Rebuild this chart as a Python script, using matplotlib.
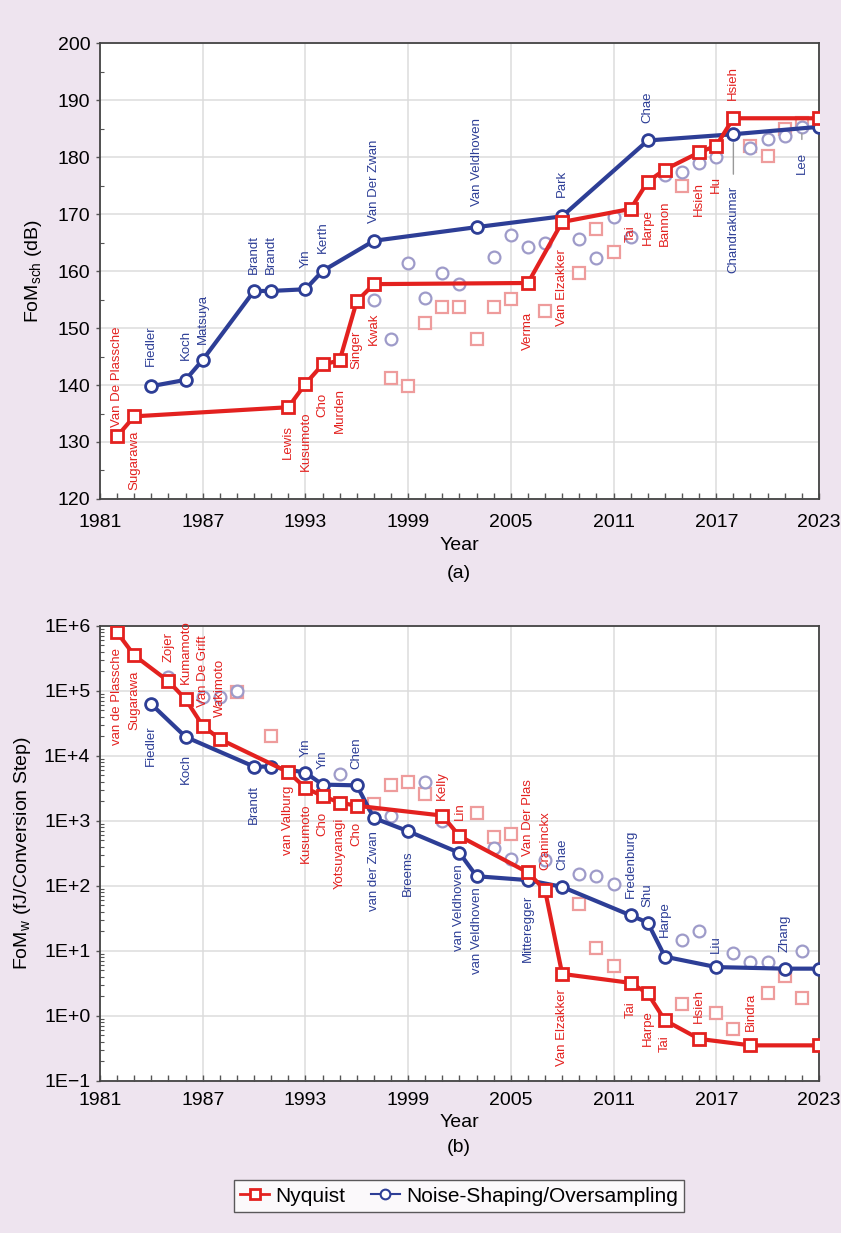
import matplotlib.pyplot as plt
from matplotlib.lines import Line2D
from matplotlib.ticker import MultipleLocator, LogLocator, NullFormatter, FixedLocator

plt.rcParams['font.family'] = ['Liberation Sans', 'DejaVu Sans']

RED = '#E3211F'
BLUE = '#2D3E96'
RED_LT = '#EE9C9C'
BLUE_LT = '#9E9BC9'
BG = '#EEE4EF'

# ---- (a) FoM_sch ----
a_nyq_year = [1982, 1983, 1992, 1993, 1994, 1995, 1996, 1997, 2006, 2008, 2012, 2013, 2014, 2016, 2017, 2018, 2023]
a_nyq_fom = [131.0, 134.5, 136.1, 140.2, 143.6, 144.3, 154.7, 157.7, 157.9, 168.6, 170.9, 175.7, 177.8, 180.8, 182.0, 186.8, 186.8]
a_nyq_name = ['Van De Plassche', 'Sugarawa', 'Lewis', 'Kusumoto', 'Cho', 'Murden', 'Singer', 'Kwak',
              'Verma', 'Van Elzakker', 'Tai', 'Harpe', 'Bannon', 'Hsieh', 'Hu', 'Hsieh', '']

a_ns_year = [1984, 1986, 1987, 1990, 1991, 1993, 1994, 1997, 2003, 2008, 2013, 2018, 2023]
a_ns_fom = [139.8, 140.9, 144.4, 156.5, 156.5, 156.8, 160.0, 165.3, 167.7, 169.6, 182.9, 184.0, 185.3]
a_ns_name = ['Fiedler', 'Koch', 'Matsuya', 'Brandt', 'Brandt', 'Yin', 'Kerth', 'Van Der Zwan',
             'Van Veldhoven', 'Park', 'Chae', 'Chandrakumar', '']

a_nyq_other_year = [1998, 1999, 2000, 2001, 2002, 2003, 2004, 2005, 2007, 2009, 2010, 2011, 2015, 2019, 2020, 2021, 2022]
a_nyq_other_fom = [141.3, 139.8, 150.9, 153.6, 153.6, 148.1, 153.6, 155.1, 152.9, 159.6, 167.3, 163.4, 174.9, 181.9, 180.2, 184.9, 186.0]

a_ns_other_year = [1997, 1998, 1999, 2000, 2001, 2002, 2004, 2005, 2006, 2007, 2009, 2010, 2011, 2012,
                   2014, 2015, 2016, 2017, 2019, 2020, 2021, 2022]
a_ns_other_fom = [154.9, 148.0, 161.4, 155.2, 159.7, 157.7, 162.4, 166.4, 164.3, 165.0, 165.6, 162.3, 169.5, 165.9,
                  176.8, 177.3, 179.0, 180.0, 181.5, 183.1, 183.7, 185.3]

# ---- (b) FoM_w ----
b_nyq_year = [1982, 1983, 1985, 1986, 1987, 1988, 1992, 1993, 1994, 1995, 1996, 2001, 2002, 2006, 2007,
              2008, 2012, 2013, 2014, 2016, 2019, 2023]
b_nyq_fom = [7.9e5, 3.5e5, 1.4e5, 7.4e4, 2.9e4, 1.8e4, 5.6e3, 3.2e3, 2.4e3, 1.9e3, 1.7e3, 1.2e3, 5.8e2,
             160, 85, 4.4, 3.2, 2.2, 0.85, 0.44, 0.35, 0.35]
b_nyq_name = ['van de Plassche', 'Sugarawa', 'Zojer', 'Kumamoto', 'Van De Grift', 'Wakimoto', 'van Valburg',
              'Kusumoto', 'Cho', 'Yotsuyanagi', 'Cho', 'Kelly', 'Lin', 'Van Der Plas', 'Craninckx',
              'Van Elzakker', 'Tai', 'Harpe', 'Tai', 'Hsieh', 'Bindra', '']

b_ns_year = [1984, 1986, 1990, 1991, 1993, 1994, 1996, 1997, 1999, 2002, 2003, 2006, 2008, 2012, 2013,
             2014, 2017, 2021, 2023]
b_ns_fom = [6.2e4, 1.95e4, 6.8e3, 6.8e3, 5.5e3, 3.6e3, 3.5e3, 1.1e3, 690, 320, 140, 122, 96, 35, 27,
            8.1, 5.6, 5.3, 5.3]
b_ns_name = ['Fiedler', 'Koch', 'Brandt', '', 'Yin', 'Yin', 'Chen', 'van der Zwan', 'Breems', 'van Veldhoven',
             'van Veldhoven', 'Mitteregger', 'Chae', 'Fredenburg', 'Shu', 'Harpe', 'Liu', 'Zhang', '']

b_nyq_other_year = [1989, 1991, 1997, 1998, 1999, 2000, 2003, 2004, 2005, 2009, 2010, 2011, 2015, 2017,
                    2018, 2020, 2021, 2022]
b_nyq_other_fom = [9.5e4, 2.0e4, 1.8e3, 3.6e3, 3.9e3, 2.6e3, 1.3e3, 570, 630, 52, 11, 5.9, 1.5, 1.1,
                   0.62, 2.2, 4.1, 1.9]

b_ns_other_year = [1985, 1987, 1988, 1989, 1995, 1998, 2000, 2001, 2004, 2005, 2007, 2009, 2010, 2011,
                   2015, 2016, 2018, 2019, 2020, 2022]
b_ns_other_fom = [1.65e5, 7.9e4, 7.9e4, 1.0e5, 5.2e3, 1.2e3, 3.9e3, 1.0e3, 380, 260, 250, 150, 140, 107,
                  14.5, 20, 9.1, 6.6, 6.8, 10]

year_ticks = [1981, 1987, 1993, 1999, 2005, 2011, 2017, 2023]

# label side (a = above, b = below) and gap in px
a_nyq_place = [('a', 3), ('b', 8), ('b', 12), ('b', 22), ('b', 22), ('b', 22), ('b', 23), ('b', 23),
               ('b', 23), ('b', 21), ('b', 10), ('b', 22), ('b', 25), ('b', 24), ('b', 24), ('a', 12), ('a', 0)]
a_ns_place = [('a', 14), ('a', 14), ('a', 10), ('a', 11), ('a', 11), ('a', 15), ('a', 12), ('a', 12),
              ('a', 15), ('a', 13), ('a', 11), ('b', 46), ('a', 0)]
b_nyq_place = [('b', 10), ('b', 9), ('a', 13), ('a', 9), ('a', 13), ('a', 16), ('b', 8), ('b', 10), ('b', 10),
               ('b', 9), ('b', 10), ('a', 10), ('a', 10), ('a', 10), ('a', 14), ('b', 9), ('b', 12), ('b', 11),
               ('b', 9), ('a', 10), ('a', 8), ('a', 0)]
b_ns_place = [('b', 15), ('b', 11), ('b', 12), ('b', 0), ('a', 10), ('a', 10), ('a', 10), ('b', 7), ('b', 13),
              ('b', 5), ('b', 5), ('b', 9), ('a', 11), ('a', 11), ('a', 10), ('a', 14), ('a', 8), ('a', 11), ('a', 0)]


def put_labels(ax, xs, ys, names, place, color):
    for x, y, n, (side, gap) in zip(xs, ys, names, place):
        if not n:
            continue
        off = (gap + 6) * 0.72
        if side == 'a':
            ax.annotate(n, (x, y), xytext=(0, off), textcoords='offset points', rotation=90,
                        ha='center', va='bottom', color=color, fontsize=9.5, zorder=6)
        else:
            ax.annotate(n, (x, y), xytext=(0, -off), textcoords='offset points', rotation=90,
                        ha='center', va='top', color=color, fontsize=9.5, zorder=6)


def draw(ax, ny, nf, sy, sf, oy_n, of_n, oy_s, of_s):
    ax.plot(oy_n, of_n, 's', ms=8, mfc='white', mec=RED_LT, mew=1.6, ls='none', zorder=2)
    ax.plot(oy_s, of_s, 'o', ms=8.5, mfc='white', mec=BLUE_LT, mew=1.6, ls='none', zorder=2)
    ax.plot(sy, sf, '-o', color=BLUE, lw=3, ms=8.5, mfc='white', mec=BLUE, mew=2, zorder=4)
    ax.plot(ny, nf, '-s', color=RED, lw=3, ms=8, mfc='white', mec=RED, mew=2, zorder=5)


def style(ax, xpad):
    ax.set_facecolor('white')
    ax.set_xlim(1981, 2023)
    ax.xaxis.set_major_locator(FixedLocator(year_ticks))
    ax.xaxis.set_minor_locator(MultipleLocator(1))
    ax.grid(True, which='major', color='#DCDCDC', lw=1.1, zorder=0)
    ax.set_axisbelow(True)
    ax.tick_params(axis='x', which='both', direction='in', length=4, width=1, color='#555555',
                   labelsize=14, pad=xpad)
    ax.tick_params(axis='y', which='major', direction='out', length=3, width=1, color='#555555',
                   labelsize=14, pad=4)
    ax.tick_params(axis='y', which='minor', direction='in', length=3, width=0.8, color='#555555')
    for s in ax.spines.values():
        s.set_color('#444444')
        s.set_linewidth(1.3)
    ax.set_xlabel('Year', fontsize=14, labelpad=4)


fig = plt.figure(figsize=(8.41, 12.33), dpi=100, facecolor=BG)

ax1 = fig.add_axes([0.1189, 0.5953, 0.8549, 0.3698])
draw(ax1, a_nyq_year, a_nyq_fom, a_ns_year, a_ns_fom,
     a_nyq_other_year, a_nyq_other_fom, a_ns_other_year, a_ns_other_fom)
style(ax1, 11)
ax1.set_ylim(120, 200)
ax1.yaxis.set_major_locator(MultipleLocator(10))
ax1.yaxis.set_minor_locator(MultipleLocator(5))
ax1.set_ylabel('FoM$_{\\mathregular{sch}}$ (dB)', fontsize=14, labelpad=10)
put_labels(ax1, a_nyq_year, a_nyq_fom, a_nyq_name, a_nyq_place, RED)
put_labels(ax1, a_ns_year, a_ns_fom, a_ns_name, a_ns_place, BLUE)
# leader lines for Chandrakumar and Lee
ax1.annotate('', (2018, 183.0), xytext=(2018, 176.5), arrowprops=dict(arrowstyle='-', color='#999999', lw=1))
ax1.annotate('', (2022, 184.6), xytext=(2022, 182.6), arrowprops=dict(arrowstyle='-', color='#999999', lw=1))
ax1.annotate('Lee', (2022, 185.3), xytext=(0, -18), textcoords='offset points', rotation=90,
             ha='center', va='top', color=BLUE, fontsize=9.5)
fig.text(0.546, 1 - 574 / 1233, '(a)', ha='center', va='center', fontsize=14)

ax2 = fig.add_axes([0.1189, 0.1235, 0.8549, 0.3690])
draw(ax2, b_nyq_year, b_nyq_fom, b_ns_year, b_ns_fom,
     b_nyq_other_year, b_nyq_other_fom, b_ns_other_year, b_ns_other_fom)
style(ax2, 8)
ax2.set_yscale('log')
ax2.set_ylim(0.1, 1e6)
ax2.yaxis.set_major_locator(LogLocator(base=10, numticks=20))
ax2.yaxis.set_minor_locator(LogLocator(base=10, subs=range(2, 10), numticks=20))
ax2.yaxis.set_minor_formatter(NullFormatter())
ax2.set_yticks([10.0 ** k for k in range(-1, 7)])
ax2.set_yticklabels(['1E\u22121', '1E+0', '1E+1', '1E+2', '1E+3', '1E+4', '1E+5', '1E+6'])
ax2.set_ylim(0.1, 1e6)
ax2.set_ylabel('FoM$_{\\mathregular{w}}$ (fJ/Conversion Step)', fontsize=14, labelpad=8)
put_labels(ax2, b_nyq_year, b_nyq_fom, b_nyq_name, b_nyq_place, RED)
put_labels(ax2, b_ns_year, b_ns_fom, b_ns_name, b_ns_place, BLUE)
fig.text(0.546, 1 - 1147 / 1233, '(b)', ha='center', va='center', fontsize=14)

handles = [Line2D([], [], color=RED, marker='s', ms=7, mfc='white', mew=2, lw=2),
           Line2D([], [], color=BLUE, marker='o', ms=7, mfc='white', mew=1.5, lw=1.5)]
leg = fig.legend(handles, ['Nyquist', 'Noise-Shaping/Oversampling'], loc='center',
                 bbox_to_anchor=(0.546, 1 - 1196 / 1233), ncol=2, frameon=True, fancybox=False,
                 edgecolor='#333333', handlelength=1.4, handletextpad=0.3, columnspacing=1.2,
                 borderpad=0.3, prop={'family': ['Liberation Sans Narrow', 'Liberation Sans'], 'size': 15})
leg.get_frame().set_linewidth(1.0)

fig.savefig('out.png', dpi=100, facecolor=BG)
